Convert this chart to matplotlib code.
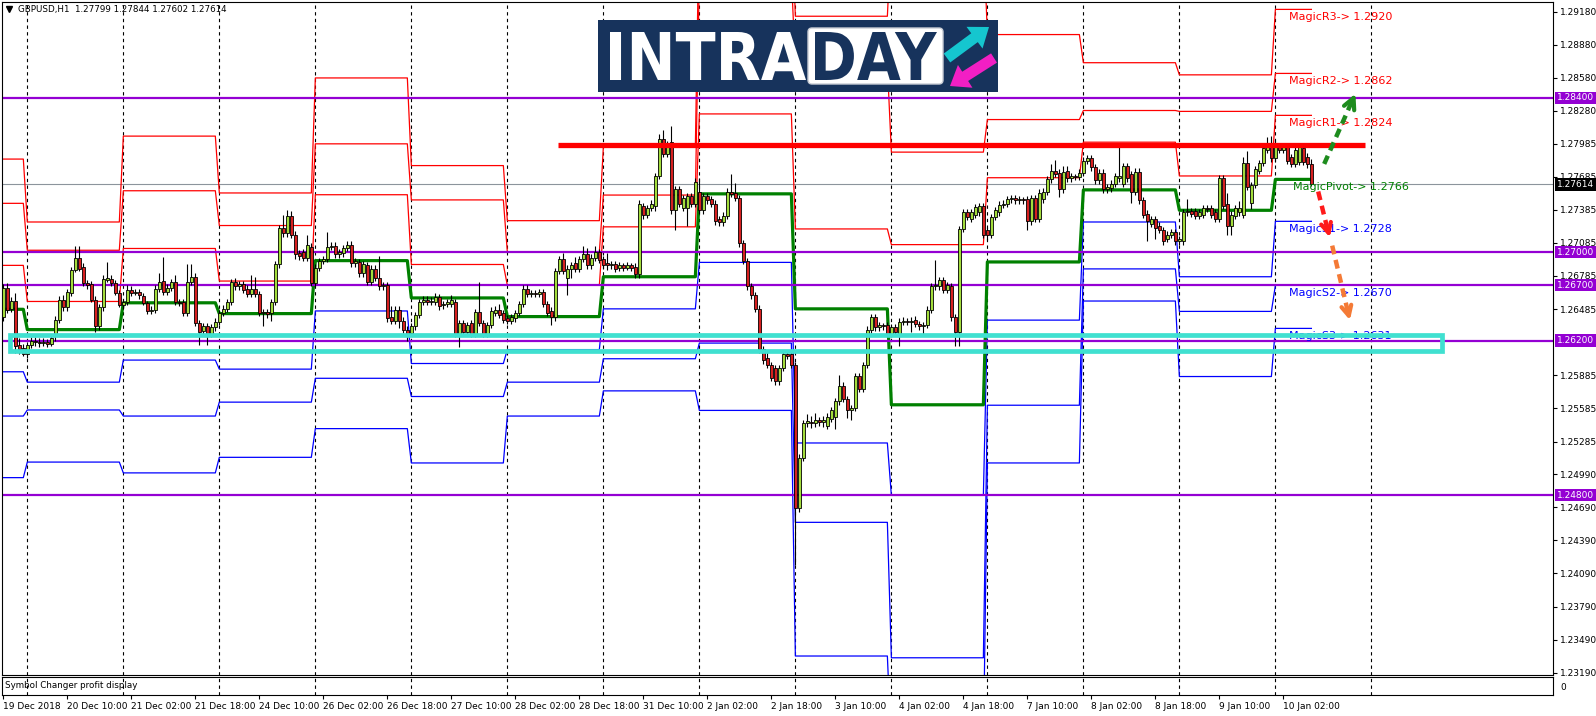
import matplotlib
matplotlib.use('Agg')
import matplotlib.pyplot as plt
import numpy as np
from matplotlib.patches import Rectangle, FancyBboxPatch, PathPatch, FancyArrow
from matplotlib.textpath import TextPath
from matplotlib.font_manager import FontProperties
from matplotlib.transforms import Affine2D, blended_transform_factory

# ---- GBPUSD H1 candles (19 Dec 2018 - 10 Jan 2019) ----
opens = [
    1.2641, 1.2668, 1.2649, 1.2656, 1.2616, 1.2613, 1.2608, 1.2616, 1.2620, 1.2619,
    1.2618, 1.2619, 1.2617, 1.2624, 1.2639, 1.2657, 1.2650, 1.2663, 1.2684, 1.2695,
    1.2687, 1.2672, 1.2671, 1.2657, 1.2633, 1.2650, 1.2675, 1.2676, 1.2672, 1.2663,
    1.2652, 1.2655, 1.2666, 1.2663, 1.2664, 1.2660, 1.2654, 1.2647, 1.2648, 1.2667,
    1.2674, 1.2664, 1.2668, 1.2673, 1.2655, 1.2655, 1.2645, 1.2673, 1.2678, 1.2636,
    1.2629, 1.2633, 1.2626, 1.2632, 1.2637, 1.2645, 1.2649, 1.2655, 1.2673, 1.2669,
    1.2671, 1.2667, 1.2662, 1.2667, 1.2662, 1.2645, 1.2646, 1.2645, 1.2655, 1.2689,
    1.2722, 1.2717, 1.2733, 1.2716, 1.2699, 1.2700, 1.2695, 1.2705, 1.2672, 1.2686,
    1.2692, 1.2694, 1.2705, 1.2706, 1.2698, 1.2699, 1.2704, 1.2707, 1.2690, 1.2691,
    1.2681, 1.2688, 1.2673, 1.2685, 1.2677, 1.2669, 1.2670, 1.2641, 1.2638, 1.2648,
    1.2638, 1.2630, 1.2627, 1.2633, 1.2643, 1.2655, 1.2657, 1.2655, 1.2655, 1.2659,
    1.2652, 1.2653, 1.2653, 1.2655, 1.2626, 1.2636, 1.2628, 1.2636, 1.2626, 1.2646,
    1.2636, 1.2626, 1.2634, 1.2645, 1.2648, 1.2645, 1.2640, 1.2638, 1.2640, 1.2645,
    1.2653, 1.2667, 1.2662, 1.2663, 1.2662, 1.2664, 1.2653, 1.2647, 1.2641, 1.2683,
    1.2694, 1.2677, 1.2685, 1.2690, 1.2685, 1.2694, 1.2698, 1.2688, 1.2695, 1.2700,
    1.2694, 1.2690, 1.2688, 1.2689, 1.2686, 1.2688, 1.2686, 1.2688, 1.2687, 1.2680,
    1.2742, 1.2734, 1.2740, 1.2742, 1.2769, 1.2803, 1.2789, 1.2800, 1.2738, 1.2757,
    1.2740, 1.2740, 1.2751, 1.2744, 1.2755, 1.2738, 1.2751, 1.2748, 1.2744, 1.2730,
    1.2727, 1.2733, 1.2755, 1.2754, 1.2749, 1.2708, 1.2692, 1.2669, 1.2661, 1.2649,
    1.2612, 1.2604, 1.2598, 1.2595, 1.2583, 1.2595, 1.2608, 1.2608, 1.2598, 1.2468,
    1.2514, 1.2545, 1.2546, 1.2545, 1.2548, 1.2546, 1.2543, 1.2549, 1.2551, 1.2565,
    1.2579, 1.2567, 1.2557, 1.2559, 1.2588, 1.2576, 1.2598, 1.2630, 1.2641, 1.2632,
    1.2634, 1.2634, 1.2626, 1.2632, 1.2626, 1.2637, 1.2638, 1.2637, 1.2639, 1.2635,
    1.2633, 1.2634, 1.2648, 1.2669, 1.2669, 1.2675, 1.2666, 1.2669, 1.2641, 1.2628,
    1.2721, 1.2736, 1.2730, 1.2734, 1.2736, 1.2742, 1.2720, 1.2716, 1.2732, 1.2736,
    1.2743, 1.2744, 1.2748, 1.2749, 1.2747, 1.2748, 1.2748, 1.2728, 1.2749, 1.2730,
    1.2748, 1.2755, 1.2766, 1.2774, 1.2772, 1.2757, 1.2774, 1.2767, 1.2769, 1.2768,
    1.2772, 1.2783, 1.2785, 1.2777, 1.2765, 1.2772, 1.2757, 1.2758, 1.2762, 1.2767,
    1.2762, 1.2778, 1.2771, 1.2755, 1.2773, 1.2747, 1.2735, 1.2726, 1.2730, 1.2724,
    1.2720, 1.2712, 1.2716, 1.2718, 1.2710, 1.2710, 1.2736, 1.2737, 1.2737, 1.2733,
    1.2734, 1.2740, 1.2740, 1.2736, 1.2730, 1.2767, 1.2744, 1.2724, 1.2733, 1.2736,
    1.2734, 1.2781, 1.2745, 1.2761, 1.2774, 1.2781, 1.2793, 1.2798, 1.2785, 1.2795,
    1.2793, 1.2795, 1.2786, 1.2780, 1.2782, 1.2794, 1.2786, 1.27799]
highs = [
    1.2671, 1.2672, 1.2659, 1.2663, 1.2622, 1.2617, 1.2619, 1.2623, 1.2623, 1.2622,
    1.2622, 1.2621, 1.2625, 1.2642, 1.2660, 1.2661, 1.2667, 1.2687, 1.2706, 1.2706,
    1.2690, 1.2675, 1.2674, 1.2660, 1.2653, 1.2679, 1.2691, 1.2679, 1.2675, 1.2666,
    1.2658, 1.2670, 1.2669, 1.2667, 1.2667, 1.2663, 1.2656, 1.2651, 1.2670, 1.2681,
    1.2696, 1.2671, 1.2676, 1.2679, 1.2658, 1.2658, 1.2689, 1.2689, 1.2681, 1.2639,
    1.2636, 1.2636, 1.2635, 1.2640, 1.2648, 1.2652, 1.2658, 1.2676, 1.2677, 1.2674,
    1.2674, 1.2670, 1.2679, 1.2678, 1.2665, 1.2649, 1.2649, 1.2658, 1.2692, 1.2725,
    1.2734, 1.2738, 1.2737, 1.2719, 1.2702, 1.2703, 1.2716, 1.2708, 1.2689, 1.2695,
    1.2697, 1.2718, 1.2709, 1.2709, 1.2703, 1.2707, 1.2710, 1.2710, 1.2695, 1.2694,
    1.2692, 1.2691, 1.2688, 1.2688, 1.2697, 1.2673, 1.2673, 1.2651, 1.2651, 1.2651,
    1.2641, 1.2633, 1.2636, 1.2646, 1.2658, 1.2660, 1.2660, 1.2659, 1.2663, 1.2662,
    1.2656, 1.2658, 1.2661, 1.2658, 1.2639, 1.2639, 1.2637, 1.2639, 1.2649, 1.2673,
    1.2639, 1.2637, 1.2650, 1.2651, 1.2653, 1.2648, 1.2643, 1.2644, 1.2648, 1.2656,
    1.2670, 1.2670, 1.2666, 1.2666, 1.2667, 1.2667, 1.2656, 1.2650, 1.2686, 1.2697,
    1.2699, 1.2688, 1.2691, 1.2696, 1.2697, 1.2706, 1.2704, 1.2698, 1.2706, 1.2703,
    1.2697, 1.2699, 1.2692, 1.2692, 1.2691, 1.2690, 1.2691, 1.2690, 1.2690, 1.2747,
    1.2745, 1.2743, 1.2747, 1.2772, 1.2807, 1.2811, 1.2801, 1.2814, 1.2760, 1.2760,
    1.2752, 1.2754, 1.2754, 1.2767, 1.2767, 1.2754, 1.2754, 1.2751, 1.2747, 1.2733,
    1.2736, 1.2758, 1.2771, 1.2763, 1.2752, 1.2711, 1.2695, 1.2672, 1.2664, 1.2652,
    1.2615, 1.2611, 1.2601, 1.2598, 1.2598, 1.2611, 1.2611, 1.2611, 1.2601, 1.2517,
    1.2548, 1.2553, 1.2552, 1.2554, 1.2551, 1.2552, 1.2554, 1.2560, 1.2568, 1.2589,
    1.2582, 1.2570, 1.2562, 1.2591, 1.2591, 1.2601, 1.2633, 1.2644, 1.2644, 1.2637,
    1.2636, 1.2637, 1.2635, 1.2635, 1.2640, 1.2641, 1.2640, 1.2641, 1.2642, 1.2638,
    1.2637, 1.2651, 1.2672, 1.2693, 1.2678, 1.2678, 1.2673, 1.2672, 1.2644, 1.2724,
    1.2739, 1.2739, 1.2739, 1.2744, 1.2745, 1.2745, 1.2723, 1.2735, 1.2741, 1.2746,
    1.2747, 1.2751, 1.2752, 1.2752, 1.2751, 1.2750, 1.2751, 1.2752, 1.2752, 1.2757,
    1.2758, 1.2769, 1.2780, 1.2784, 1.2775, 1.2778, 1.2778, 1.2772, 1.2771, 1.2775,
    1.2786, 1.2788, 1.2788, 1.2780, 1.2775, 1.2775, 1.2762, 1.2765, 1.2772, 1.2795,
    1.2781, 1.2781, 1.2774, 1.2776, 1.2776, 1.2750, 1.2738, 1.2733, 1.2733, 1.2727,
    1.2723, 1.2719, 1.2721, 1.2721, 1.2715, 1.2739, 1.2748, 1.2740, 1.2740, 1.2739,
    1.2743, 1.2743, 1.2743, 1.2739, 1.2770, 1.2770, 1.2754, 1.2737, 1.2743, 1.2746,
    1.2786, 1.2792, 1.2764, 1.2778, 1.2784, 1.2797, 1.2804, 1.2805, 1.2802, 1.2798,
    1.2798, 1.2798, 1.2789, 1.2799, 1.2799, 1.2797, 1.2790, 1.27844]
lows = [
    1.2638, 1.2645, 1.2646, 1.2609, 1.2608, 1.2606, 1.2604, 1.2613, 1.2615, 1.2614,
    1.2615, 1.2614, 1.2615, 1.2620, 1.2636, 1.2647, 1.2647, 1.2660, 1.2682, 1.2683,
    1.2669, 1.2667, 1.2655, 1.2628, 1.2630, 1.2647, 1.2673, 1.2669, 1.2661, 1.2650,
    1.2649, 1.2652, 1.2660, 1.2661, 1.2658, 1.2652, 1.2644, 1.2644, 1.2645, 1.2664,
    1.2661, 1.2661, 1.2665, 1.2652, 1.2651, 1.2642, 1.2642, 1.2670, 1.2633, 1.2616,
    1.2625, 1.2616, 1.2623, 1.2629, 1.2634, 1.2642, 1.2646, 1.2652, 1.2666, 1.2666,
    1.2663, 1.2659, 1.2659, 1.2659, 1.2642, 1.2633, 1.2640, 1.2638, 1.2652, 1.2686,
    1.2714, 1.2714, 1.2713, 1.2694, 1.2693, 1.2692, 1.2692, 1.2669, 1.2669, 1.2683,
    1.2689, 1.2691, 1.2702, 1.2695, 1.2695, 1.2696, 1.2701, 1.2687, 1.2687, 1.2678,
    1.2678, 1.2670, 1.2670, 1.2674, 1.2666, 1.2666, 1.2637, 1.2635, 1.2635, 1.2631,
    1.2627, 1.2620, 1.2624, 1.2630, 1.2640, 1.2652, 1.2652, 1.2652, 1.2652, 1.2648,
    1.2649, 1.2650, 1.2650, 1.2623, 1.2614, 1.2625, 1.2625, 1.2623, 1.2623, 1.2633,
    1.2623, 1.2623, 1.2631, 1.2642, 1.2640, 1.2636, 1.2635, 1.2635, 1.2637, 1.2642,
    1.2650, 1.2659, 1.2659, 1.2659, 1.2659, 1.2650, 1.2642, 1.2634, 1.2638, 1.2680,
    1.2680, 1.2661, 1.2677, 1.2682, 1.2682, 1.2691, 1.2685, 1.2685, 1.2692, 1.2690,
    1.2685, 1.2684, 1.2685, 1.2682, 1.2683, 1.2683, 1.2684, 1.2683, 1.2677, 1.2677,
    1.2730, 1.2731, 1.2737, 1.2737, 1.2766, 1.2786, 1.2786, 1.2735, 1.2720, 1.2741,
    1.2737, 1.2724, 1.2741, 1.2741, 1.2735, 1.2735, 1.2744, 1.2741, 1.2725, 1.2724,
    1.2724, 1.2730, 1.2750, 1.2746, 1.2705, 1.2689, 1.2666, 1.2658, 1.2646, 1.2609,
    1.2599, 1.2595, 1.2583, 1.2580, 1.2580, 1.2592, 1.2603, 1.2595, 1.2417, 1.2465,
    1.2511, 1.2542, 1.2541, 1.2542, 1.2543, 1.2542, 1.2540, 1.2546, 1.2540, 1.2562,
    1.2564, 1.2550, 1.2548, 1.2556, 1.2573, 1.2573, 1.2595, 1.2627, 1.2629, 1.2629,
    1.2630, 1.2623, 1.2623, 1.2625, 1.2615, 1.2634, 1.2634, 1.2628, 1.2632, 1.2630,
    1.2626, 1.2631, 1.2645, 1.2666, 1.2666, 1.2663, 1.2663, 1.2638, 1.2615, 1.2615,
    1.2718, 1.2729, 1.2727, 1.2731, 1.2733, 1.2713, 1.2711, 1.2713, 1.2729, 1.2733,
    1.2740, 1.2741, 1.2745, 1.2744, 1.2744, 1.2744, 1.2720, 1.2725, 1.2727, 1.2727,
    1.2745, 1.2752, 1.2763, 1.2768, 1.2750, 1.2754, 1.2764, 1.2764, 1.2765, 1.2765,
    1.2769, 1.2780, 1.2774, 1.2762, 1.2762, 1.2754, 1.2754, 1.2755, 1.2759, 1.2764,
    1.2759, 1.2764, 1.2745, 1.2752, 1.2744, 1.2731, 1.2710, 1.2723, 1.2712, 1.2717,
    1.2707, 1.2709, 1.2713, 1.2707, 1.2707, 1.2707, 1.2733, 1.2732, 1.2730, 1.2730,
    1.2731, 1.2736, 1.2731, 1.2727, 1.2727, 1.2739, 1.2716, 1.2716, 1.2730, 1.2733,
    1.2731, 1.2756, 1.2739, 1.2758, 1.2771, 1.2778, 1.2790, 1.2782, 1.2782, 1.2790,
    1.2790, 1.2780, 1.2777, 1.2777, 1.2779, 1.2779, 1.2776, 1.27602]
closes = [
    1.2668, 1.2648, 1.2656, 1.2615, 1.2612, 1.2608, 1.2616, 1.2620, 1.2619, 1.2618,
    1.2619, 1.2617, 1.2622, 1.2639, 1.2657, 1.2650, 1.2664, 1.2684, 1.2695, 1.2685,
    1.2672, 1.2670, 1.2657, 1.2633, 1.2650, 1.2676, 1.2677, 1.2672, 1.2663, 1.2652,
    1.2655, 1.2666, 1.2663, 1.2664, 1.2661, 1.2654, 1.2647, 1.2648, 1.2667, 1.2673,
    1.2664, 1.2668, 1.2673, 1.2655, 1.2654, 1.2645, 1.2673, 1.2678, 1.2636, 1.2628,
    1.2633, 1.2626, 1.2632, 1.2637, 1.2645, 1.2649, 1.2655, 1.2673, 1.2669, 1.2671,
    1.2666, 1.2662, 1.2667, 1.2662, 1.2645, 1.2646, 1.2644, 1.2655, 1.2689, 1.2722,
    1.2717, 1.2733, 1.2716, 1.2698, 1.2697, 1.2695, 1.2707, 1.2672, 1.2686, 1.2692,
    1.2694, 1.2705, 1.2706, 1.2698, 1.2700, 1.2704, 1.2707, 1.2690, 1.2692, 1.2681,
    1.2689, 1.2673, 1.2685, 1.2677, 1.2669, 1.2670, 1.2640, 1.2638, 1.2648, 1.2638,
    1.2630, 1.2626, 1.2633, 1.2643, 1.2655, 1.2657, 1.2655, 1.2656, 1.2659, 1.2651,
    1.2653, 1.2655, 1.2657, 1.2626, 1.2636, 1.2628, 1.2634, 1.2626, 1.2646, 1.2636,
    1.2626, 1.2634, 1.2647, 1.2648, 1.2643, 1.2639, 1.2638, 1.2641, 1.2645, 1.2653,
    1.2667, 1.2662, 1.2663, 1.2662, 1.2664, 1.2653, 1.2645, 1.2641, 1.2683, 1.2694,
    1.2683, 1.2685, 1.2688, 1.2685, 1.2694, 1.2698, 1.2688, 1.2695, 1.2700, 1.2693,
    1.2688, 1.2688, 1.2689, 1.2685, 1.2688, 1.2686, 1.2688, 1.2686, 1.2680, 1.2744,
    1.2734, 1.2740, 1.2744, 1.2769, 1.2803, 1.2789, 1.2797, 1.2738, 1.2757, 1.2744,
    1.2749, 1.2751, 1.2744, 1.2764, 1.2738, 1.2751, 1.2747, 1.2744, 1.2728, 1.2727,
    1.2733, 1.2755, 1.2753, 1.2749, 1.2708, 1.2692, 1.2669, 1.2661, 1.2649, 1.2612,
    1.2602, 1.2598, 1.2586, 1.2583, 1.2595, 1.2608, 1.2606, 1.2598, 1.2468, 1.2514,
    1.2545, 1.2547, 1.2545, 1.2548, 1.2546, 1.2548, 1.2551, 1.2557, 1.2565, 1.2579,
    1.2567, 1.2557, 1.2559, 1.2588, 1.2576, 1.2598, 1.2630, 1.2641, 1.2632, 1.2634,
    1.2633, 1.2626, 1.2632, 1.2628, 1.2637, 1.2638, 1.2637, 1.2638, 1.2635, 1.2633,
    1.2634, 1.2648, 1.2669, 1.2670, 1.2675, 1.2666, 1.2670, 1.2641, 1.2628, 1.2721,
    1.2736, 1.2732, 1.2736, 1.2741, 1.2742, 1.2716, 1.2716, 1.2732, 1.2738, 1.2743,
    1.2744, 1.2748, 1.2749, 1.2747, 1.2748, 1.2747, 1.2728, 1.2749, 1.2730, 1.2754,
    1.2755, 1.2766, 1.2774, 1.2771, 1.2757, 1.2773, 1.2767, 1.2769, 1.2768, 1.2772,
    1.2783, 1.2785, 1.2777, 1.2765, 1.2772, 1.2757, 1.2759, 1.2762, 1.2769, 1.2769,
    1.2778, 1.2767, 1.2755, 1.2773, 1.2747, 1.2734, 1.2728, 1.2730, 1.2722, 1.2720,
    1.2710, 1.2716, 1.2718, 1.2710, 1.2712, 1.2736, 1.2737, 1.2735, 1.2733, 1.2736,
    1.2740, 1.2739, 1.2734, 1.2730, 1.2767, 1.2742, 1.2724, 1.2734, 1.2740, 1.2740,
    1.2781, 1.2759, 1.2761, 1.2775, 1.2781, 1.2794, 1.2798, 1.2785, 1.2795, 1.2793,
    1.2795, 1.2783, 1.2780, 1.2793, 1.2795, 1.2782, 1.2780, 1.27614]

# ---- daily Magic pivot levels (one value per session) ----
day_bars = [6, 24, 24, 24, 24, 24, 24, 24, 24, 24, 24, 24, 24, 24, 10]
r3 = [1.27844, 1.27274, 1.28052, 1.27537, 1.28579, 1.27785, 1.27286, 1.27954,
      1.30100, 1.29138, 1.29900, 1.28972, 1.28717, 1.28607, 1.2920]
r2 = [1.27443, 1.27018, 1.27557, 1.27242, 1.27982, 1.27474, 1.27002, 1.27518,
      1.29500, 1.28693, 1.27907, 1.28202, 1.28284, 1.28276, 1.2862]
r1 = [1.26881, 1.26554, 1.27034, 1.26739, 1.27521, 1.26889, 1.26700, 1.27230,
      1.28253, 1.27211, 1.27069, 1.27675, 1.27997, 1.27691, 1.2824]
pivot = [1.26483, 1.26299, 1.26542, 1.26444, 1.26924, 1.26586, 1.26417, 1.26778,
         1.27529, 1.26487, 1.25618, 1.26912, 1.27565, 1.27380, 1.2766]
s1 = [1.25917, 1.25823, 1.26023, 1.25941, 1.26468, 1.25992, 1.26118, 1.26487,
      1.26908, 1.25272, 1.24797, 1.26385, 1.27274, 1.26778, 1.2728]
s2 = [1.25516, 1.25571, 1.25516, 1.25642, 1.25858, 1.25693, 1.25823, 1.26035,
      1.26177, 1.24553, 1.23326, 1.25614, 1.26849, 1.26464, 1.2670]
s3 = [1.24958, 1.25099, 1.25001, 1.25142, 1.25402, 1.25091, 1.25516, 1.25744,
      1.25567, 1.23342, 1.22500, 1.25091, 1.26558, 1.25874, 1.2631]

# horizontal support / resistance lines
hlines_purple = [1.2840, 1.2700, 1.2670, 1.2620, 1.2480]
current_price = 1.27614
resistance = 1.2797

time_labels = ["19 Dec 2018", "20 Dec 10:00", "21 Dec 02:00", "21 Dec 18:00", "24 Dec 10:00",
               "26 Dec 02:00", "26 Dec 18:00", "27 Dec 10:00", "28 Dec 02:00", "28 Dec 18:00",
               "31 Dec 10:00", "2 Jan 02:00", "2 Jan 18:00", "3 Jan 10:00", "4 Jan 02:00",
               "4 Jan 18:00", "7 Jan 10:00", "8 Jan 02:00", "8 Jan 18:00", "9 Jan 10:00",
               "10 Jan 02:00"]
price_ticks = [1.29180, 1.28880, 1.28580, 1.28280, 1.27985, 1.27685, 1.27385, 1.27085,
               1.26785, 1.26485, 1.25885, 1.25585, 1.25285, 1.24990, 1.24690, 1.24390,
               1.24090, 1.23790, 1.23490, 1.23190]

W, H = 1596, 716
fig = plt.figure(figsize=(W / 100, H / 100), dpi=100)
ax = fig.add_axes([2 / W, (H - 675) / H, 1551 / W, 673 / H])
sub = fig.add_axes([2 / W, (H - 695) / H, 1551 / W, 18 / H])

o = np.array(opens); h = np.array(highs); l = np.array(lows); c = np.array(closes)
x = np.arange(len(c))
xlim = (-0.33, 387.4)

# grid at session starts
starts = np.cumsum(day_bars)[:-1]
grid_x = np.append(starts, starts[-1] + 24)
for a in (ax, sub):
    a.vlines(grid_x, 0, 1, transform=blended_transform_factory(a.transData, a.transAxes),
             colors='black', lw=0.8, linestyles=(0, (3, 3)), zorder=1)

# current price line
ax.axhline(current_price, color='#8c949c', lw=0.8, zorder=1)

# pivot level lines
for vals, col, lw in [(r3, '#ff0000', 0.9), (r2, '#ff0000', 0.9), (r1, '#ff0000', 0.9),
                      (s1, '#0000ff', 0.9), (s2, '#0000ff', 0.9), (s3, '#0000ff', 0.9),
                      (pivot, '#008000', 2.3)]:
    ax.plot(x, np.repeat(vals, day_bars), color=col, lw=lw, zorder=2)

for p in hlines_purple:
    ax.axhline(p, color='#9400d3', lw=1.6, zorder=2.5)

# candles
up = c >= o
ax.vlines(x, l, h, color='black', lw=0.8, zorder=3)
lo = np.minimum(o, c)
bh = np.maximum(np.abs(c - o), 0.00005)
ax.bar(x[up], bh[up], bottom=lo[up], width=0.72, color='#a2dc3c', edgecolor='black',
       linewidth=0.6, zorder=4)
ax.bar(x[~up], bh[~up], bottom=lo[~up], width=0.72, color='#d62020', edgecolor='black',
       linewidth=0.6, zorder=4)

# Magic level labels
lab = [(r3, 'MagicR3', '#ff0000'), (r2, 'MagicR2', '#ff0000'), (r1, 'MagicR1', '#ff0000'),
       (pivot, 'MagicPivot', '#008000'), (s1, 'MagicS1', '#0000ff'),
       (s2, 'MagicS2', '#0000ff'), (s3, 'MagicS3', '#0000ff')]
for vals, name, col in lab:
    lx = 322.3 if name == 'MagicPivot' else 321.3
    ax.annotate(f"{name}-> {vals[-1]:.4f}", (lx, vals[-1]), xytext=(0, -2),
                textcoords='offset points', va='top', ha='left', fontsize=8, color=col,
                zorder=5)

# drawn objects: resistance, cyan zone, arrows
ax.hlines(resistance, 138.7, 340.4, color='#ff0000', lw=3.8, zorder=6)
ax.add_patch(Rectangle((1.75, 1.26105), 358.0, 0.00145, fill=False, ec='#40e0d0',
                       lw=3.4, zorder=6))

ax.plot([330.2, 337.3], [1.2780, 1.2838], color='#1e8c1e', lw=3.2, ls=(0, (2, 1.3)),
        zorder=7, dash_capstyle='butt')
ax.annotate('', xy=(338.3, 1.2846), xytext=(336.6, 1.2832),
            arrowprops=dict(arrowstyle='->', color='#1e8c1e', lw=3, mutation_scale=20),
            zorder=7)
ax.plot([328.7, 331.3], [1.2755, 1.2717], color='#ff1a1a', lw=3.2, ls=(0, (2, 1.3)),
        zorder=7, dash_capstyle='butt')
ax.annotate('', xy=(331.8, 1.2711), xytext=(330.6, 1.2727),
            arrowprops=dict(arrowstyle='->', color='#ff1a1a', lw=3, mutation_scale=18),
            zorder=7)
ax.plot([332.2, 336.2], [1.2706, 1.2645], color='#f47a36', lw=3.2, ls=(0, (2, 1.3)),
        zorder=7, dash_capstyle='butt')
ax.annotate('', xy=(336.8, 1.2636), xytext=(335.7, 1.2652),
            arrowprops=dict(arrowstyle='->', color='#f47a36', lw=3, mutation_scale=18),
            zorder=7)

# axes styling
ax.set_xlim(*xlim)
ax.set_ylim(1.2317, 1.29267)
ax.set_xticks([])
ax.yaxis.tick_right()
ax.set_yticks(price_ticks)
ax.set_yticklabels([f"{t:.5f}" for t in price_ticks])
ax.tick_params(axis='y', direction='out', length=3, width=0.8, pad=2, labelsize=6.5)
for s in ax.spines.values():
    s.set_linewidth(0.8)

trans = blended_transform_factory(ax.transAxes, ax.transData)
for p in hlines_purple:
    ax.text(1.0 + 4 / 1551, p, f"{p:.5f}", transform=trans, va='center', ha='left',
            fontsize=6.5, color='white', clip_on=False, zorder=9,
            bbox=dict(boxstyle='square,pad=0.18', fc='#9400d3', ec='none'))
ax.text(1.0 + 4 / 1551, current_price, f"{current_price:.5f}", transform=trans, va='center',
        ha='left', fontsize=6.5, color='white', clip_on=False, zorder=9,
        bbox=dict(boxstyle='square,pad=0.18', fc='black', ec='none'))

ax.plot([0.0045], [0.9895], marker='v', color='black', ms=4, transform=ax.transAxes)
ax.text(0.0105, 0.9895, "GBPUSD,H1  1.27799 1.27844 1.27602 1.27614", transform=ax.transAxes,
        va='center', ha='left', fontsize=6.3)

# sub window
sub.set_xlim(*xlim)
sub.set_ylim(-1, 1)
sub.yaxis.tick_right()
sub.set_yticks([0])
sub.set_yticklabels(['0'])
sub.tick_params(axis='y', length=0, pad=5, labelsize=6.5)
sub.set_xticks(np.arange(len(time_labels)) * 16)
sub.set_xticklabels(time_labels)
for t in sub.get_xticklabels():
    t.set_ha('left')
sub.tick_params(axis='x', direction='out', length=3, width=0.8, pad=2, labelsize=6.5)
for s in sub.spines.values():
    s.set_linewidth(0.8)
sub.text(0.002, 0.5, "Symbol Changer profit display", transform=sub.transAxes,
         va='center', ha='left', fontsize=6.3)

# INTRADAY logo
lax = fig.add_axes([598 / W, (H - 92) / H, 400 / W, 72 / H])
lax.set_xlim(0, 400)
lax.set_ylim(72, 0)
lax.axis('off')
lax.add_patch(Rectangle((0, 0), 400, 72, fc='#17335c', ec='none'))
lax.add_patch(FancyBboxPatch((210, 8), 135, 56, boxstyle='round,pad=0,rounding_size=4',
                             fc='white', ec='#c8ccd4', lw=1))
bold = FontProperties(family='DejaVu Sans', weight='bold')


def fit_text(a, s, x0, y0, x1, y1, color):
    tp = TextPath((0, 0), s, prop=bold, size=100)
    bb = tp.get_extents()
    tr = Affine2D().translate(-bb.x0, -bb.y0).scale((x1 - x0) / bb.width,
                                                    -(y1 - y0) / bb.height).translate(x0, y1)
    a.add_patch(PathPatch(tr.transform_path(tp), fc=color, ec='none'))


fit_text(lax, "INTRA", 12, 12, 208, 60, 'white')
fit_text(lax, "DAY", 217, 12, 339, 60, '#17335c')
lax.add_patch(FancyArrow(349, 38, 42, -31, width=11, head_width=27, head_length=18,
                         length_includes_head=True, fc='#15c6cf', ec='none'))
lax.add_patch(FancyArrow(396, 38, -44, 28, width=11, head_width=27, head_length=18,
                         length_includes_head=True, fc='#f21fc4', ec='none'))

fig.savefig('out.png', dpi=100)
